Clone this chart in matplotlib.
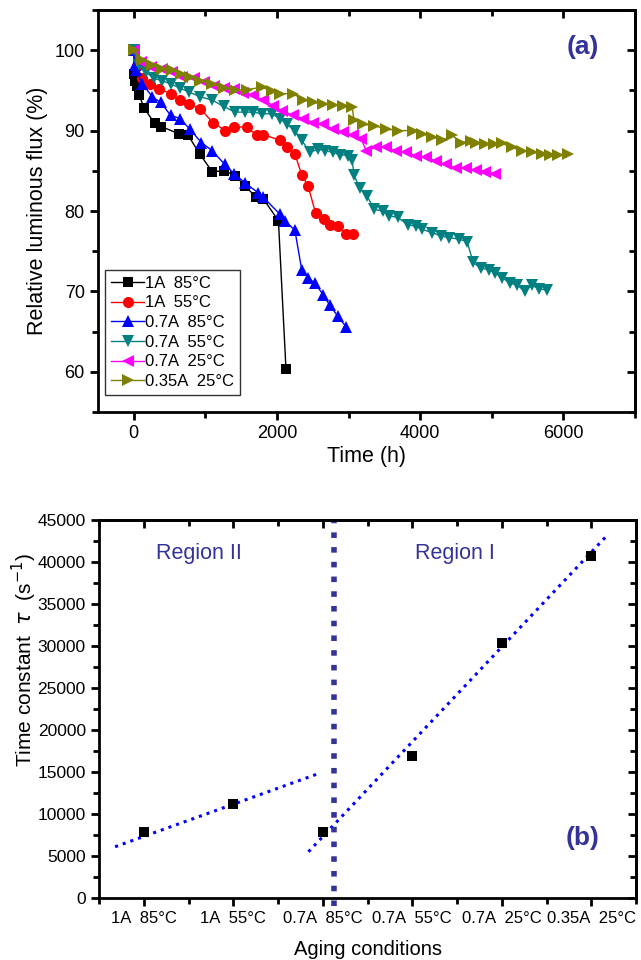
import matplotlib
matplotlib.use("Agg")
import matplotlib.pyplot as plt
from matplotlib.ticker import MultipleLocator

plt.rcParams['font.family'] = ['Liberation Sans', 'DejaVu Sans']

# %% data, panel (a): relative luminous flux vs time
t_1a85 = [0, 8, 20, 40, 75, 145, 290, 385, 630, 760, 920, 1095, 1265, 1415, 1555, 1710, 1810, 2020, 2125]
f_1a85 = [100, 97.1, 96.2, 95.6, 94.4, 92.8, 90.9, 90.5, 89.6, 89.4, 87.1, 84.9, 85.0, 84.4, 83.1, 81.7, 81.5, 78.8, 60.4]

t_1a55 = [0, 40, 120, 230, 350, 515, 645, 770, 930, 1105, 1280, 1405, 1580, 1720, 1810, 2040, 2135,
          2250, 2345, 2435, 2540, 2655, 2745, 2850, 2965, 3060]
f_1a55 = [100, 98.0, 96.5, 95.8, 95.2, 94.6, 93.8, 93.3, 92.7, 91.0, 90.0, 90.5, 90.4, 89.4, 89.5, 88.8, 87.9,
          87.1, 84.5, 83.1, 79.7, 79.0, 78.2, 78.1, 77.2, 77.1]

t_07a85 = [0, 10, 30, 120, 260, 375, 515, 645, 780, 945, 1095, 1270, 1405, 1555, 1730, 1810, 2040, 2110,
           2250, 2345, 2435, 2530, 2645, 2735, 2850, 2965]
f_07a85 = [100, 98.1, 97.5, 95.8, 94.2, 93.5, 91.9, 91.5, 90.2, 88.5, 87.5, 85.8, 84.6, 83.5, 82.3, 81.7, 79.6, 78.8,
           77.6, 72.7, 71.7, 71.0, 69.6, 68.3, 66.9, 65.6]

t_07a55 = [0, 75, 165, 280, 400, 515, 645, 770, 930, 1095, 1255, 1415, 1555, 1670, 1785, 1925, 2040, 2135,
           2250, 2345, 2460, 2575, 2665, 2780, 2875, 2990, 3050, 3075, 3155, 3255, 3360, 3475, 3570, 3685,
           3825, 3940, 4030, 4170, 4285, 4400, 4540, 4655, 4740, 4845, 4960, 5050, 5145, 5260, 5350, 5465,
           5560, 5655, 5770]
f_07a55 = [100, 98.1, 97.3, 96.5, 96.2, 95.8, 95.3, 94.8, 94.2, 93.8, 93.0, 92.3, 92.3, 92.3, 92.1, 92.1, 91.5, 90.8,
           90.0, 88.8, 87.3, 87.7, 87.5, 87.3, 87.0, 86.9, 86.3, 84.5, 82.8, 81.9, 80.2, 80.0, 79.4, 79.2,
           78.3, 78.1, 77.7, 77.3, 76.9, 76.7, 76.5, 76.2, 73.6, 72.9, 72.7, 72.3, 71.7, 71.0, 70.8, 70.0,
           70.8, 70.3, 70.2]

t_07a25 = [0, 95, 235, 400, 535, 675, 840, 975, 1115, 1255, 1395, 1530, 1670, 1810, 1950, 2065, 2225,
           2365, 2505, 2645, 2780, 2920, 3060, 3175, 3245, 3385, 3525, 3660, 3800, 3940, 4080, 4220, 4355,
           4495, 4635, 4775, 4910, 5050]
f_07a25 = [100, 98.5, 97.9, 97.7, 97.3, 96.7, 96.5, 96.0, 95.6, 95.3, 95.2, 94.7, 94.4, 93.8, 93.1, 92.5, 91.9,
           91.5, 91.0, 90.8, 90.2, 89.8, 89.4, 89.0, 87.5, 87.9, 87.9, 87.5, 87.3, 86.9, 86.7, 86.2, 85.8,
           85.4, 85.3, 85.1, 84.9, 84.6]

t_035a25 = [0, 120, 260, 400, 535, 655, 790, 930, 1095, 1255, 1415, 1580, 1790, 1930, 2040, 2225, 2365,
            2505, 2645, 2780, 2920, 3050, 3075, 3200, 3360, 3525, 3685, 3895, 4030, 4170, 4310, 4450, 4565,
            4705, 4775, 4910, 5030, 5145, 5280, 5420, 5560, 5700, 5815, 5930, 6070]
f_035a25 = [100, 98.8, 98.1, 97.7, 97.5, 97.1, 96.7, 96.2, 95.8, 95.3, 95.0, 95.1, 95.4, 94.9, 94.6, 94.6, 93.8,
            93.5, 93.3, 93.2, 93.0, 92.9, 91.3, 90.8, 90.6, 90.2, 90.0, 90.0, 89.6, 89.2, 88.8, 89.4, 88.5,
            88.7, 88.5, 88.3, 88.3, 88.4, 87.9, 87.5, 87.3, 87.1, 87.0, 87.0, 87.1]

# %% data, panel (b): time constant per aging condition
conditions = ['1A  85°C', '1A  55°C', '0.7A  85°C', '0.7A  55°C', '0.7A  25°C', '0.35A  25°C']
tau = [7800, 11200, 7800, 16900, 30300, 40700]
fit2_x = [0.68, 2.95]
fit2_y = [6100, 14800]
fit1_x = [2.84, 6.18]
fit1_y = [5500, 43200]
boundary_x = 3.13

navy = '#333399'

fig = plt.figure(figsize=(6.41, 9.6), dpi=100)
ax1 = fig.add_axes([98 / 641, 1 - 412 / 960, 537 / 641, 402 / 960])
ax2 = fig.add_axes([99 / 641, 1 - 898 / 960, 537 / 641, 378 / 960])

series = [
    (t_1a85, f_1a85, 's', 'black', '1A  85°C', 6.5),
    (t_1a55, f_1a55, 'o', 'red', '1A  55°C', 8),
    (t_07a85, f_07a85, '^', 'blue', '0.7A  85°C', 9),
    (t_07a55, f_07a55, 'v', '#008080', '0.7A  55°C', 9),
    (t_07a25, f_07a25, '<', '#ff00ff', '0.7A  25°C', 9),
    (t_035a25, f_035a25, '>', '#808000', '0.35A  25°C', 9),
]
for t, f, m, c, lab, ms in series:
    ax1.plot(t, f, marker=m, color=c, ms=ms, lw=1.0, label=lab, markeredgewidth=0)

ax1.set_xlim(-500, 7000)
ax1.set_ylim(55, 105)
ax1.xaxis.set_major_locator(MultipleLocator(2000))
ax1.xaxis.set_minor_locator(MultipleLocator(1000))
ax1.yaxis.set_major_locator(MultipleLocator(10))
ax1.yaxis.set_minor_locator(MultipleLocator(5))
ax1.set_xlabel('Time (h)', fontsize=15.5, labelpad=3)
ax1.set_ylabel('Relative luminous flux (%)', fontsize=15.5, labelpad=5)
ax1.text(0.903, 0.908, '(a)', transform=ax1.transAxes, fontsize=19, fontweight='bold',
         color=navy, ha='center', va='center')
leg = ax1.legend(loc='lower left', bbox_to_anchor=(0.004, 0.03), fontsize=12, frameon=True,
                 fancybox=False, edgecolor='black', handlelength=2.0, handletextpad=0.05,
                 labelspacing=0.28, borderpad=0.35, borderaxespad=0.3)
leg.get_frame().set_linewidth(1.0)

ax2.plot(fit2_x, fit2_y, ':', color='blue', lw=2.2)
ax2.plot(fit1_x, fit1_y, ':', color='blue', lw=2.2)
ax2.plot([boundary_x, boundary_x], [-900, 45000], ':', color=navy, lw=4, clip_on=False)
ax2.plot(range(1, len(tau) + 1), tau, 's', color='black', ms=7.5, markeredgewidth=0, zorder=3)
ax2.set_xlim(0.5, 6.5)
ax2.set_ylim(0, 45000)
ax2.set_xticks(range(1, len(conditions) + 1))
ax2.set_xticklabels(conditions, fontsize=12)
ax2.xaxis.set_minor_locator(MultipleLocator(0.5))
ax2.yaxis.set_major_locator(MultipleLocator(5000))
ax2.yaxis.set_minor_locator(MultipleLocator(2500))
ax2.set_xlabel('Aging conditions', fontsize=14.5, labelpad=10)
ax2.set_ylabel(r'Time constant  $\tau$  (s$^{-1}$)', fontsize=15)
ax2.yaxis.set_label_coords(-0.112, 0.63)
ax2.text(1.62, 41000, 'Region II', color=navy, fontsize=15.5, ha='center', va='center')
ax2.text(4.48, 41000, 'Region I', color=navy, fontsize=15.5, ha='center', va='center')
ax2.text(0.901, 0.159, '(b)', transform=ax2.transAxes, fontsize=19, fontweight='bold',
         color=navy, ha='center', va='center')

for ax in (ax1, ax2):
    for s in ax.spines.values():
        s.set_linewidth(2)
    ax.tick_params(which='both', direction='out', width=2, top=False, right=False)
    ax.tick_params(which='major', length=6)
    ax.tick_params(which='minor', length=4)
    if ax is ax1:
        ax.tick_params(axis='both', labelsize=13)
    else:
        ax.tick_params(axis='y', labelsize=12.5)
    # mirrored ticks pointing inward on top and right
    top = ax.secondary_xaxis('top')
    top.set_xticks(ax.get_xticks())
    top.xaxis.set_minor_locator(ax.xaxis.get_minor_locator())
    top.tick_params(which='both', direction='in', width=2, labeltop=False)
    top.tick_params(which='major', length=6)
    top.tick_params(which='minor', length=4)
    top.spines['top'].set_linewidth(2)
    right = ax.secondary_yaxis('right')
    right.set_yticks(ax.get_yticks())
    right.yaxis.set_minor_locator(ax.yaxis.get_minor_locator())
    right.tick_params(which='both', direction='in', width=2, labelright=False)
    right.tick_params(which='major', length=6)
    right.tick_params(which='minor', length=4)
    right.spines['right'].set_linewidth(2)

fig.savefig('out.png', dpi=100)
